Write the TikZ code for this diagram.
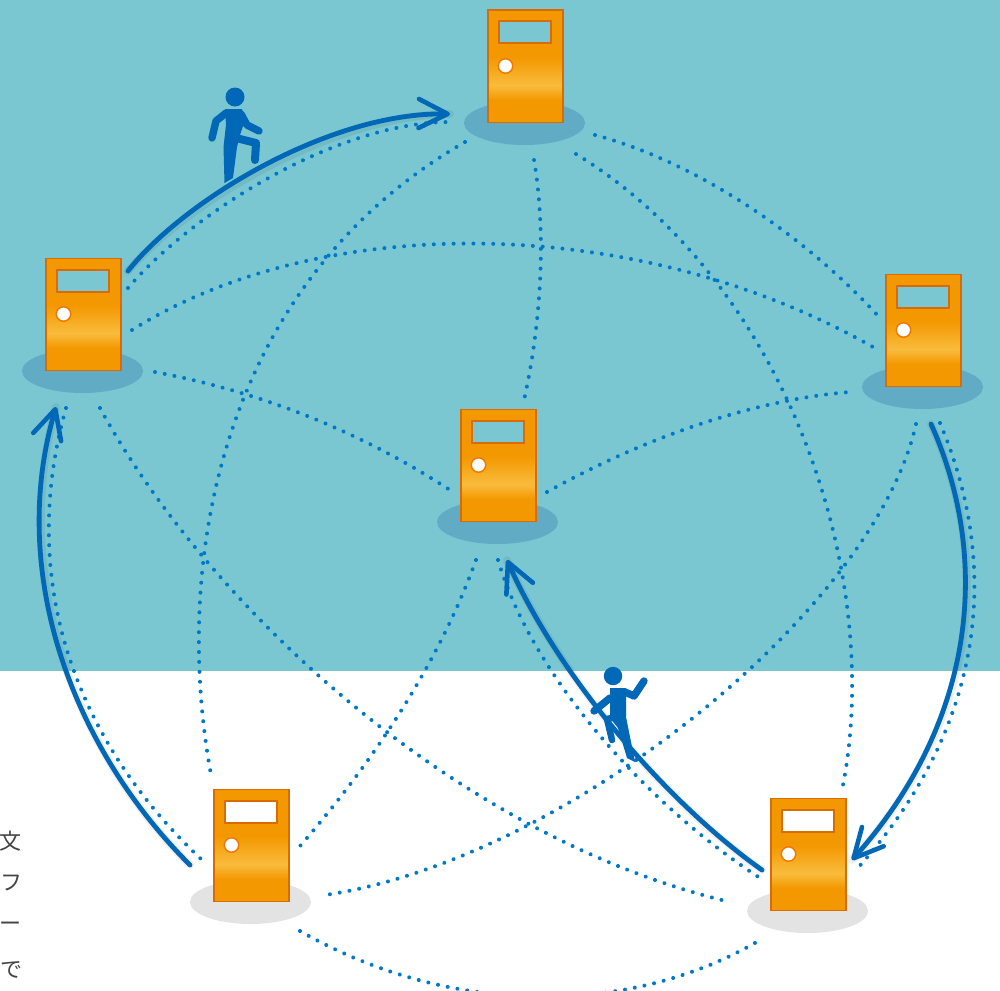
\documentclass[tikz,border=0pt]{standalone}
\usepackage{fontspec}
\newfontfamily\cjkjp{Noto Sans CJK JP}
\usetikzlibrary{arrows.meta,calc,shapes.geometric}
\definecolor{tealbg}{HTML}{7AC7D2}
\definecolor{shadowteal}{HTML}{61ABC5}
\definecolor{shadowgray}{HTML}{E3E3E3}
\definecolor{doororange}{HTML}{F39800}
\definecolor{doorlight}{HTML}{F9BC3D}
\definecolor{doorline}{HTML}{D96C00}
\definecolor{knobline}{HTML}{F07A00}
\definecolor{dotblue}{HTML}{0078C8}
\definecolor{arrowblue}{HTML}{0068B7}
\definecolor{sidetext}{HTML}{444444}
\pgfdeclareverticalshading{doorgrad}{100bp}{color(0bp)=(doororange); color(25bp)=(doororange); color(35bp)=(doororange); color(41.5bp)=(doorlight); color(54bp)=(doororange); color(100bp)=(doororange)}
\tikzset{
  doorbody/.style={draw=doorline,line width=1.7pt,shading=doorgrad,minimum width=75pt,minimum height=112pt,inner sep=0pt,anchor=north west},
  doorwin/.style={draw=doorline,line width=2pt,minimum width=52pt,minimum height=22pt,inner sep=0pt,anchor=north west},
  doorknob/.style={circle,draw=knobline,line width=1.5pt,fill=white,minimum size=14.5pt,inner sep=0pt},
  floorshadow/.style={ellipse,minimum width=121pt,minimum height=44pt,inner sep=0pt},
  dotline/.style={dotblue,line width=4pt,line cap=round,dash pattern=on 0.01pt off 9.9pt},
  bigarrow/.style={arrowblue,line width=4.8pt,line cap=round,-{Straight Barb[length=29pt,width=29pt,line width=4.6pt,round]}},
  arrowglow/.style={black,opacity=.06,line width=8pt,line cap=round},
  person/.style={fill=arrowblue,draw=none},
  limb/.style={arrowblue,line width=7.4pt,line cap=round,line join=round},
  sidechar/.style={text=sidetext,font=\cjkjp\fontsize{22pt}{22pt}\selectfont,inner sep=0pt}
}
% #1 name, #2 x, #3 y, #4 colour
\newcommand{\doorfloor}[4]{%
  \node[floorshadow,fill=#4] (#1floor) at (#2+37.5,#3+113) {};}
\newcommand{\doorunit}[4]{%
  \node[doorbody] (#1) at (#2,#3-.5) {};
  \node[doorwin,fill=#4] (#1win) at (#2+11,#3+10.5) {};
  \node[doorknob] (#1knob) at (#2+18.5,#3+56) {};}
\begin{document}
\begin{tikzpicture}[x=1pt,y=-1pt]
\useasboundingbox (0,0) rectangle (1000,990);
\clip (0,0) rectangle (1000,990);
\fill[tealbg] (0,0) rectangle (1000,671);

\doorfloor{top}{487}{10}{shadowteal}
\doorfloor{left}{45}{258}{shadowteal}
\doorfloor{right}{885}{274}{shadowteal}
\doorfloor{mid}{460}{409}{shadowteal}
\doorfloor{bl}{213}{789}{shadowgray}
\doorfloor{br}{770}{798}{shadowgray}

% dotted connector ends
\coordinate (a1) at (128,288); \coordinate (b1) at (450,122);
\coordinate (a2) at (465,142); \coordinate (b2) at (212,780);
\coordinate (a3) at (534,160); \coordinate (b3) at (524,400);
\coordinate (a4) at (576,154); \coordinate (b4) at (842,790);
\coordinate (a5) at (595,135); \coordinate (b5) at (880,318);
\coordinate (a6) at (132,330); \coordinate (b6) at (873,347);
\coordinate (a7) at (155,372); \coordinate (b7) at (450,490);
\coordinate (a8) at (547,492); \coordinate (b8) at (850,392);
\coordinate (a9) at (100,408);  \coordinate (b9) at (730,902);
\coordinate (a10) at (66,408); \coordinate (b10) at (201,859);
\coordinate (a11) at (476,560); \coordinate (b11) at (300,846);
\coordinate (a12) at (498,560); \coordinate (b12) at (760,878);
\coordinate (a13) at (916,424); \coordinate (b13) at (325,895);
\coordinate (a14) at (940,423); \coordinate (b14) at (856,870);
\coordinate (a15) at (300,931); \coordinate (b15) at (760,940);

\draw[dotline] (a1) .. controls (190,215) and (335,122) .. (b1);
\draw[dotline] (a2) .. controls (222,282) and (170,560) .. (b2);
\draw[dotline] (a3) .. controls (546,230) and (542,320) .. (b3);
\draw[dotline] (a4) .. controls (790,285) and (885,580) .. (b4);
\draw[dotline] (a5) .. controls (690,160) and (800,230) .. (b5);
\draw[dotline] (a6) .. controls (320,212) and (635,212) .. (b6);
\draw[dotline] (a7) .. controls (250,390) and (350,425) .. (b7);
\draw[dotline] (a8) .. controls (640,440) and (750,400) .. (b8);
\draw[dotline] (a9) .. controls (210,610) and (460,838) .. (b9);
\draw[dotline] (a10) .. controls (15,590) and (83,748) .. (b10);
\draw[dotline] (a11) .. controls (440,660) and (375,760) .. (b11);
\draw[dotline] (a12) .. controls (530,670) and (640,800) .. (b12);
\draw[dotline] (a13) .. controls (875,610) and (565,860) .. (b13);
\draw[dotline] (a14) .. controls (1003,572) and (982,730) .. (b14);
\draw[dotline] (a15) .. controls (450,1017) and (630,1017) .. (b15);

\doorunit{top}{487}{10}{tealbg}
\doorunit{left}{45}{258}{tealbg}
\doorunit{right}{885}{274}{tealbg}
\doorunit{mid}{460}{409}{tealbg}
\doorunit{bl}{213}{789}{white}
\doorunit{br}{770}{798}{white}

% arrows
\coordinate (as) at (128,271); \coordinate (ae) at (450,114);
\coordinate (bs) at (931,424); \coordinate (be) at (852,860);
\coordinate (cs) at (762,870); \coordinate (ce) at (507,560);
\coordinate (ds) at (190,865); \coordinate (de) at (56,407);
\begin{scope}[shift={(2,3)}]
\draw[arrowglow] (as) .. controls (184,200) and (330,112) .. (ae);
\draw[arrowglow] (bs) .. controls (992,560) and (975,722) .. (be);
\draw[arrowglow] (cs) .. controls (670,805) and (560,680) .. (ce);
\draw[arrowglow] (ds) .. controls (70,745) and (8,570) .. (de);
\end{scope}
\draw[bigarrow] (as) .. controls (184,200) and (330,112) .. (ae);
\draw[bigarrow] (bs) .. controls (992,560) and (975,722) .. (be);
\draw[bigarrow] (cs) .. controls (670,805) and (560,680) .. (ce);
\draw[bigarrow] (ds) .. controls (70,745) and (8,570) .. (de);

% climbing figure, upper left
\fill[person] (235,97) circle (9.5);
\fill[person] (225,109) -- (242,109) -- (245,120) -- (240,135) -- (237,147) -- (233,178) -- (224.5,183) -- (223.5,147) -- (226,125) -- cycle;
\draw[limb] (226,113) -- (216,121) -- (212,138);
\draw[limb] (241,114) -- (247,125) -- (259,131);
\draw[limb,line width=8pt] (236,138) -- (256,143) -- (255,160);

% climbing figure, lower right
\fill[person] (613,676) circle (9.2);
\fill[person] (610,688) -- (626,688) -- (626,717) -- (635,762) -- (627,758) -- (618,728) -- (610,718) -- cycle;
\draw[limb] (625,692) -- (634,696) -- (644,681);
\draw[limb] (610,698) -- (594,711);
\draw[limb,line width=6.5pt] (617,717) -- (607,719) -- (612,740);

% text cut off at the left edge
\node[sidechar] (t1) at (10.5,841) {文};
\node[sidechar] (t2) at (12,883) {フ};
\node[sidechar] (t3) at (10.5,927) {ー};
\node[sidechar] (t4) at (12,970) {で};
\end{tikzpicture}
\end{document}
